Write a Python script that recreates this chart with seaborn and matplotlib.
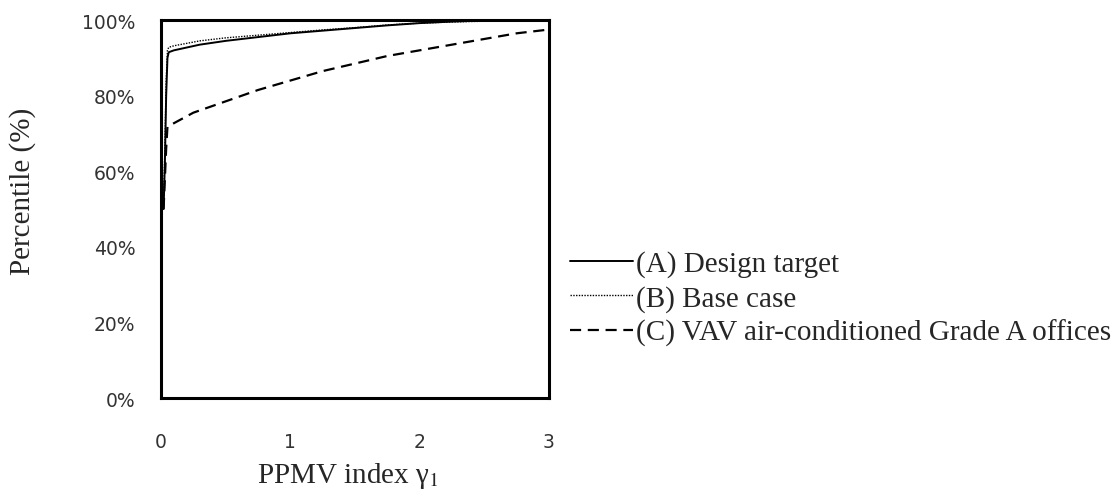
import numpy as np
import pandas as pd
import matplotlib
matplotlib.use("Agg")
import matplotlib.pyplot as plt
import seaborn as sns

# values (PPMV index vs cumulative percentile)
design_x = [0.02, 0.03, 0.04, 0.05, 0.06, 0.10, 0.30, 0.50, 0.75, 1.00, 1.25, 1.50, 1.75, 2.00, 2.25, 2.50]
design_y = [0.50, 0.62, 0.80, 0.90, 0.915, 0.92, 0.935, 0.945, 0.955, 0.965, 0.972, 0.979, 0.986, 0.992, 0.996, 0.999]

base_x = [0.02, 0.03, 0.04, 0.05, 0.06, 0.10, 0.30, 0.50, 0.75, 1.00, 1.25, 1.50, 1.75, 2.00, 2.25, 2.50]
base_y = [0.52, 0.66, 0.84, 0.92, 0.928, 0.932, 0.945, 0.953, 0.960, 0.967, 0.974, 0.980, 0.987, 0.992, 0.995, 0.997]

vav_x = [0.02, 0.03, 0.04, 0.05, 0.25, 0.50, 0.75, 1.00, 1.25, 1.50, 1.75, 2.00, 2.25, 2.50, 2.75, 3.00]
vav_y = [0.50, 0.58, 0.66, 0.718, 0.755, 0.785, 0.815, 0.840, 0.865, 0.885, 0.905, 0.920, 0.935, 0.950, 0.965, 0.975]

labels = ["(A) Design target", "(B) Base case", "(C) VAV air-conditioned Grade A offices"]

sns.set_style("white")
plt.rcParams["font.family"] = ["Liberation Serif", "DejaVu Serif"]
plt.rcParams["mathtext.fontset"] = "stix"

fig = plt.figure(figsize=(11.18, 5.02), dpi=100)
ax = fig.add_axes([0.144, 0.205, 0.347, 0.753])

sns.lineplot(x=design_x, y=design_y, ax=ax, color="black", lw=1.4, sort=False,
             label=labels[0])
sns.lineplot(x=base_x, y=base_y, ax=ax, color="black", lw=1.0, sort=False,
             linestyle=(0, (1, 1)), label=labels[1])
sns.lineplot(x=vav_x, y=vav_y, ax=ax, color="black", lw=1.6, sort=False,
             linestyle=(0, (5, 3)), label=labels[2])

ax.set_xlim(0, 3)
ax.set_ylim(0, 1)
ax.set_xticks([0, 1, 2, 3])
ax.set_yticks(np.arange(0, 1.01, 0.2))
ax.set_yticklabels([f"{int(round(v * 100))}%" for v in np.arange(0, 1.01, 0.2)])

for s in ax.spines.values():
    s.set_visible(True)
    s.set_linewidth(2.2)
    s.set_color("black")

ax.tick_params(axis="both", direction="out", length=6.5, width=1.2, color="#333333",
               labelsize=13.5, labelcolor="#333333")
ax.tick_params(axis="y", pad=12)
ax.tick_params(axis="x", pad=18)
for lab in ax.get_xticklabels() + ax.get_yticklabels():
    lab.set_family("DejaVu Sans")

ax.set_xlabel("PPMV index γ$_{\\mathrm{1}}$", fontsize=21)
ax.set_ylabel("Percentile (%)", fontsize=21)
ax.xaxis.set_label_coords(0.483, -0.163)
ax.yaxis.set_label_coords(-0.322, 0.55)

ax.legend(loc="center left", bbox_to_anchor=(1.054, 0.264), frameon=False,
          fontsize=21, handlelength=2.17, handletextpad=0.1, labelspacing=0.25,
          borderaxespad=0, borderpad=0)

fig.savefig("out.png", dpi=100)
